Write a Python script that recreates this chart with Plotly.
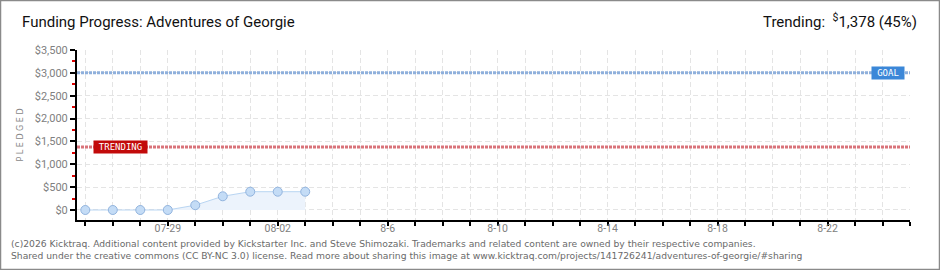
import plotly.graph_objects as go
import pandas as pd

# ---- data ----
dates = ["2025-07-26", "2025-07-27", "2025-07-28", "2025-07-29", "2025-07-30",
         "2025-07-31", "2025-08-01", "2025-08-02", "2025-08-03"]
pledged = [0, 0, 0, 0, 105, 300, 400, 400, 400]
goal = 3000
trending = 1378
trending_pct = 45

tick_days = pd.date_range("2025-07-26", "2025-08-25", freq="D")
labelled = {"2025-07-29": "07-29", "2025-08-02": "08-02", "2025-08-06": "8-6",
            "2025-08-10": "8-10", "2025-08-14": "8-14", "2025-08-18": "8-18",
            "2025-08-22": "8-22"}
tick_text = [labelled.get(d.strftime("%Y-%m-%d"), " ") for d in tick_days]
y_ticks = [0, 500, 1000, 1500, 2000, 2500, 3000, 3500]
y_labels = ["$0", "$500", "$1,000", "$1,500", "$2,000", "$2,500", "$3,000", "$3,500"]

W, H = 940, 270
ML, MR, MT, MB = 77, 30, 50, 50
PW, PH = W - ML - MR, H - MT - MB

def px(x):
    return (x - ML) / PW

def py(ytop):
    return (H - MB - ytop) / PH

TICKFONT = dict(family="Roboto", size=11, color="#808080")

fig = go.Figure()
fig.add_trace(go.Scatter(
    x=dates, y=pledged, mode="lines+markers",
    line=dict(color="#b9d5f2", width=1),
    fill="tozeroy", fillcolor="#ecf3fc",
    marker=dict(size=9, color="#c4dcf6", line=dict(color="#92b4de", width=1)),
    hoverinfo="skip", showlegend=False,
))

grid_dash = "5px,3px"
fig.update_layout(
    width=W, height=H,
    margin=dict(l=ML, r=MR, t=MT, b=MB),
    paper_bgcolor="white", plot_bgcolor="white",
    showlegend=False,
    xaxis=dict(
        type="date",
        range=["2025-07-25 16:45", "2025-08-25 00:00"],
        tickvals=list(tick_days), ticktext=tick_text,
        showgrid=True, gridcolor="#e4e4e4", griddash=grid_dash, gridwidth=1,
        showline=True, linecolor="black", linewidth=2,
        ticks="outside", ticklen=4, tickcolor="black", tickwidth=1.5,
        tickfont=dict(family="Roboto", size=10.5, color="#808080"),
        ticklabelstandoff=-7,
        zeroline=False, fixedrange=True,
    ),
    yaxis=dict(
        range=[-219, 3500],
        tickvals=y_ticks, ticktext=y_labels,
        showgrid=True, gridcolor="#e4e4e4", griddash=grid_dash, gridwidth=1,
        showline=True, linecolor="black", linewidth=2,
        ticks="outside", ticklen=5, tickcolor="black", tickwidth=1.5,
        minor=dict(tickvals=[250, 750, 1250, 1750, 2250, 2750, 3250],
                   ticks="outside", ticklen=3, tickcolor="#dd0000", tickwidth=1.5,
                   showgrid=False),
        tickfont=TICKFONT,
        zeroline=False, fixedrange=True,
        title=dict(text="P L E D G E D", standoff=10,
                   font=dict(family="DejaVu Sans", size=8, color="#888888")),
    ),
)

# goal & trending lines
fig.add_shape(type="line", xref="paper", yref="y", x0=0, x1=1, y0=goal, y1=goal,
              line=dict(color="#8fb0dc", width=3, dash="3px,1px"), layer="above")
fig.add_shape(type="line", xref="paper", yref="y", x0=0, x1=1, y0=trending, y1=trending,
              line=dict(color="#d9737a", width=3, dash="3px,1px"), layer="above")

fig.add_annotation(xref="paper", yref="y", x=px(888), y=goal, text="GOAL",
                   showarrow=False, bgcolor="#3b87d8", borderpad=1,
                   font=dict(family="DejaVu Sans Mono", size=9, color="white"),
                   xanchor="center", yanchor="middle", width=30, height=10)
fig.add_annotation(xref="paper", yref="y", x=px(120.5), y=trending, text="TRENDING",
                   showarrow=False, bgcolor="#c20a0a", borderpad=1,
                   font=dict(family="DejaVu Sans Mono", size=9, color="white"),
                   xanchor="center", yanchor="middle", width=51, height=10)

# titles
fig.add_annotation(xref="paper", yref="paper", x=px(20), y=py(22),
                   text="Funding Progress: Adventures of Georgie",
                   showarrow=False, xanchor="left", yanchor="middle",
                   font=dict(family="Roboto", size=15, color="#111111"))
fig.add_annotation(xref="paper", yref="paper", x=px(919), y=py(21),
                   text=f"Trending:  <sup>$</sup>{trending:,} ({trending_pct}%)",
                   showarrow=False, xanchor="right", yanchor="middle",
                   font=dict(family="Roboto", size=15, color="#111111"))

# footer
foot1 = "(c)2026 Kicktraq. Additional content provided by Kickstarter Inc. and Steve Shimozaki. Trademarks and related content are owned by their respective companies."
foot2 = "Shared under the creative commons (CC BY-NC 3.0) license. Read more about sharing this image at www.kicktraq.com/projects/141726241/adventures-of-georgie/#sharing"
fig.add_annotation(xref="paper", yref="paper", x=px(9), y=py(243), text=foot1,
                   showarrow=False, xanchor="left", yanchor="middle",
                   font=dict(family="DejaVu Sans", size=9.2, color="#6a6a6a"))
fig.add_annotation(xref="paper", yref="paper", x=px(9), y=py(256), text=foot2,
                   showarrow=False, xanchor="left", yanchor="middle",
                   font=dict(family="DejaVu Sans", size=9.2, color="#6a6a6a"))

# frame
fig.add_shape(type="rect", xref="paper", yref="paper",
              x0=px(0.5), x1=px(939.5), y0=py(0.5), y1=py(269.5),
              line=dict(color="#8a8a8a", width=1.5), layer="above")

fig.write_html("out.html")
